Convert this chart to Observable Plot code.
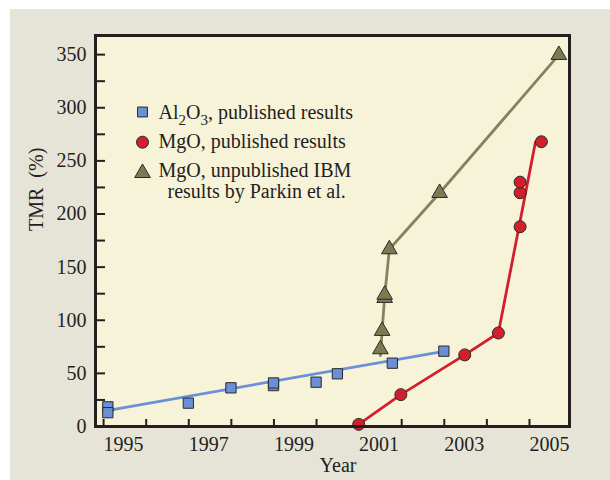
<!DOCTYPE html>
<html>
<head>
<meta charset="utf-8">
<script src="https://cdn.jsdelivr.net/npm/d3@7"></script>
<script src="https://cdn.jsdelivr.net/npm/@observablehq/plot@0.6"></script>
<style>
  body { margin: 0; background: #ffffff; }
  #chart { width: 610px; height: 480px; }
</style>
</head>
<body>
<div id="chart"></div>
<script>
// ---- Data ----
const al2o3Years = [1995.10, 1995.10, 1996.99, 1997.99, 1998.99, 1998.99, 1999.99, 2000.49, 2001.78, 2002.99];
const al2o3TMR   = [18.5, 13, 22, 36.4, 38.5, 41, 41.7, 49.6, 59.6, 70.9];
const al2o3FitYears = [1995.05, 2002.99];
const al2o3FitTMR   = [14.8, 70.8];

const mgoYears = [2000.99, 2001.98, 2003.48, 2004.27, 2004.78, 2004.78, 2004.78, 2005.28];
const mgoTMR   = [2, 30, 67.4, 88, 188, 220, 230, 268];
const mgoLineYears = [2000.99, 2001.98, 2003.48, 2004.27, 2005.14];
const mgoLineTMR   = [2, 30, 67.4, 88, 267.5];

const ibmYears = [2001.50, 2001.54, 2001.60, 2001.60, 2001.71, 2002.89, 2005.69];
const ibmTMR   = [72.7, 90, 121, 124, 166.8, 219.8, 349.7];
const ibmLineYears = [2001.50, 2001.54, 2001.60, 2001.71, 2002.89, 2005.69];
const ibmLineTMR   = [66.8, 90, 122.5, 166.8, 219.8, 349.7];

const xTickYears  = [1995, 1996, 1997, 1998, 1999, 2000, 2001, 2002, 2003, 2004, 2005];
const xLabelYears = [1995, 1997, 1999, 2001, 2003, 2005];
const yTicks  = [0, 25, 50, 75, 100, 125, 150, 175, 200, 225, 250, 275, 300, 325, 350];
const yLabels = [0, 50, 100, 150, 200, 250, 300, 350];

const legendLabels = ["Al₂O₃, published results", "MgO, published results", "MgO, unpublished IBM", "results by Parkin et al."];
const xTitle = "Year";
const yTitle = "TMR\u00a0\u00a0(%)";

// ---- Styles ----
const blue = "#6b8fd4", blueLine = "#6a90d8";
const red = "#d21f2d";
const olive = "#7b7b52", oliveLine = "#84835f";
const ink = "#231f20";
const markerStroke = "#2a2a2a";

const zip = (xs, ys) => xs.map((x, i) => ({x, y: ys[i]}));

const W = 610, H = 480, mL = 95, mR = 41, mT = 35, mB = 54;
const plotW = W - mL - mR, plotH = H - mT - mB;

const chart = Plot.plot({
  width: W, height: H,
  marginLeft: mL, marginRight: mR, marginTop: mT, marginBottom: mB,
  style: {
    fontFamily: "'Liberation Serif','Times New Roman',serif",
    fontSize: "20px",
    color: ink,
    background: "linear-gradient(#e6e4d7,#e6e4d7) 10px 9px / 600px 471px no-repeat, #ffffff",
    overflow: "visible"
  },
  x: {domain: [1994.81, 2005.94]},
  y: {domain: [0, 368]},
  marks: [
    Plot.frame({fill: "#f7f3d9", stroke: null}),
    Plot.tickX(xTickYears, {x: d => d, insetTop: plotH - 7, stroke: ink, strokeWidth: 2}),
    Plot.tickY(yTicks, {y: d => d, insetRight: plotW - 10, stroke: ink, strokeWidth: 2}),
    Plot.axisX({ticks: xLabelYears, tickSize: 0, tickPadding: 10, dx: 20, tickFormat: d => String(d), label: null, fontSize: 20}),
    Plot.axisY({ticks: yLabels, tickSize: 0, tickPadding: 9, tickFormat: d => String(d), label: null, fontSize: 20}),
    Plot.line(zip(al2o3FitYears, al2o3FitTMR), {x: "x", y: "y", stroke: blueLine, strokeWidth: 2.8}),
    Plot.line(zip(mgoLineYears, mgoLineTMR), {x: "x", y: "y", stroke: red, strokeWidth: 2.8}),
    Plot.line(zip(ibmLineYears, ibmLineTMR), {x: "x", y: "y", stroke: oliveLine, strokeWidth: 2.8}),
    Plot.dot(zip(al2o3Years, al2o3TMR), {x: "x", y: "y", symbol: "square", r: 5.8, fill: blue, stroke: markerStroke, strokeWidth: 1}),
    Plot.dot(zip(mgoYears, mgoTMR), {x: "x", y: "y", symbol: "circle", r: 6, fill: red, stroke: markerStroke, strokeWidth: 1}),
    Plot.dot(zip(ibmYears, ibmTMR), {x: "x", y: "y", symbol: "triangle", r: 5.8, fill: olive, stroke: markerStroke, strokeWidth: 1}),
    Plot.frame({stroke: ink, strokeWidth: 3}),
    // legend
    Plot.dot([0], {x: null, frameAnchor: "top-left", dx: 47, dy: 76.5, symbol: "square", r: 5.6, fill: blue, stroke: markerStroke, strokeWidth: 1}),
    Plot.dot([0], {x: null, frameAnchor: "top-left", dx: 47, dy: 106.7, symbol: "circle", r: 6, fill: red, stroke: markerStroke, strokeWidth: 1}),
    Plot.dot([0], {x: null, frameAnchor: "top-left", dx: 47, dy: 137.5, symbol: "triangle", r: 5.8, fill: olive, stroke: markerStroke, strokeWidth: 1}),
    Plot.text([legendLabels[0]], {frameAnchor: "top-left", lineAnchor: "middle", textAnchor: "start", dx: 63, dy: 77, fontSize: 20, fill: ink}),
    Plot.text([legendLabels[1]], {frameAnchor: "top-left", lineAnchor: "middle", textAnchor: "start", dx: 63, dy: 106.3, fontSize: 20, fill: ink}),
    Plot.text([legendLabels[2]], {frameAnchor: "top-left", lineAnchor: "middle", textAnchor: "start", dx: 63, dy: 135.3, fontSize: 20, fill: ink}),
    Plot.text([legendLabels[3]], {frameAnchor: "top-left", lineAnchor: "middle", textAnchor: "start", dx: 72, dy: 156, fontSize: 20, fill: ink}),
    // axis titles
    Plot.text([yTitle], {frameAnchor: "left", lineAnchor: "middle", rotate: -90, dx: -59, fontSize: 20, fill: ink}),
    Plot.text([xTitle], {frameAnchor: "bottom", lineAnchor: "middle", dx: 5.5, dy: 39.5, fontSize: 20, fill: ink})
  ]
});

// Render chemical subscripts as real lowered text
d3.select(chart).selectAll("text").each(function () {
  const t = this.textContent;
  if (!/[₂₃]/.test(t)) return;
  const sel = d3.select(this);
  sel.text(null);
  const parts = t.split(/([₂₃])/).filter(p => p.length);
  let lowered = false;
  for (const p of parts) {
    if (p === "₂" || p === "₃") {
      sel.append("tspan").attr("dy", lowered ? 0 : 6).attr("font-size", "15px").text(p === "₂" ? "2" : "3");
      lowered = true;
    } else {
      const ts = sel.append("tspan").text(p);
      if (lowered) { ts.attr("dy", -6); lowered = false; }
    }
  }
});

document.getElementById("chart").appendChild(chart);
</script>
</body>
</html>
